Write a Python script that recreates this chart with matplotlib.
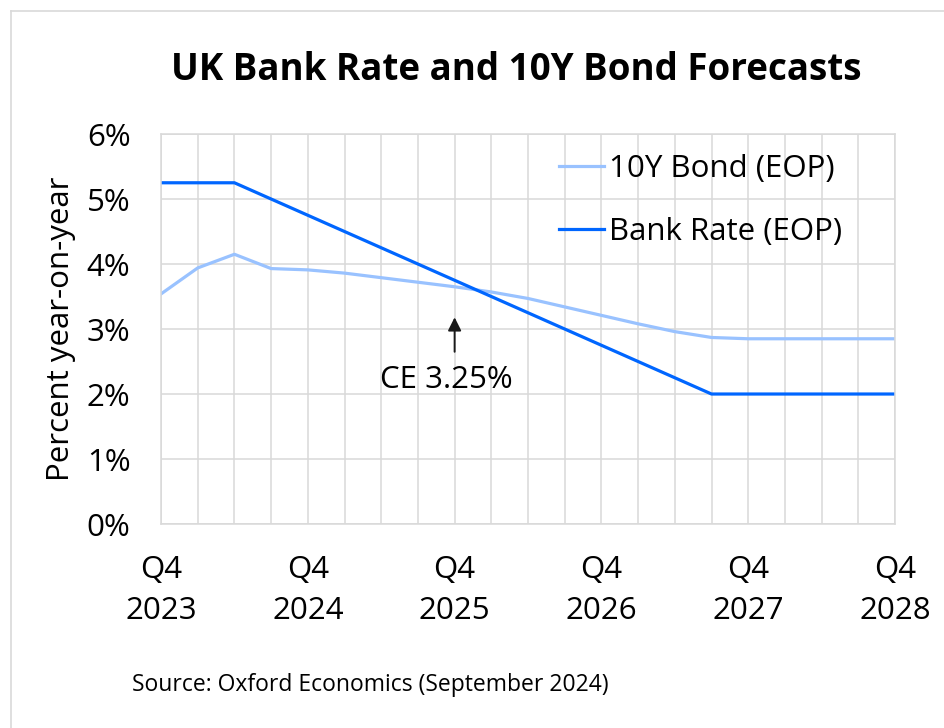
import matplotlib.pyplot as plt
from matplotlib.lines import Line2D
import numpy as np

plt.rcParams['font.family'] = ['Open Sans', 'DejaVu Sans']

# quarterly points, Q4 2023 .. Q4 2028
quarters = ['Q4\n2023', 'Q1\n2024', 'Q2\n2024', 'Q3\n2024',
            'Q4\n2024', 'Q1\n2025', 'Q2\n2025', 'Q3\n2025',
            'Q4\n2025', 'Q1\n2026', 'Q2\n2026', 'Q3\n2026',
            'Q4\n2026', 'Q1\n2027', 'Q2\n2027', 'Q3\n2027',
            'Q4\n2027', 'Q1\n2028', 'Q2\n2028', 'Q3\n2028',
            'Q4\n2028']
bond_10y = [3.54, 3.94, 4.15, 3.93, 3.91, 3.86, 3.79, 3.72, 3.65, 3.57, 3.47,
            3.34, 3.21, 3.08, 2.96, 2.87, 2.85, 2.85, 2.85, 2.85, 2.85]
bank_rate = [5.25, 5.25, 5.25, 5.00, 4.75, 4.50, 4.25, 4.00, 3.75, 3.50, 3.25,
             3.00, 2.75, 2.50, 2.25, 2.00, 2.00, 2.00, 2.00, 2.00, 2.00]
yticks = [0, 1, 2, 3, 4, 5, 6]

ce_idx = 8
ce_label = 'CE 3.25%'

x = np.arange(len(quarters))
fs = 22.5

fig = plt.figure(figsize=(9.45, 7.28), dpi=100)
ax = fig.add_axes([0.1704, 0.2802, 0.9471 - 0.1704, 0.8159 - 0.2802])

ax.plot(x, bond_10y, color='#99c2ff', lw=2.3, label='10Y Bond (EOP)', solid_joinstyle='round')
ax.plot(x, bank_rate, color='#0066ff', lw=2.3, label='Bank Rate (EOP)', solid_joinstyle='round')

ax.set_xlim(0, len(quarters) - 1)
ax.set_ylim(0, 6)
ax.set_yticks(yticks)
ax.set_yticklabels([f'{v}%' for v in yticks])
ax.set_xticks(x)
ax.set_xticklabels([q if q.startswith('Q4') else '' for q in quarters],
                   linespacing=1.5)
ax.tick_params(length=0, labelsize=fs, colors='black')
ax.tick_params(axis='x', pad=22)
ax.tick_params(axis='y', pad=22)

ax.grid(True, color='#d9d9d9', lw=1.1)
ax.set_axisbelow(True)
for s in ax.spines.values():
    s.set_color('#d9d9d9')
    s.set_linewidth(1.1)

ax.set_ylabel('Percent year-on-year', fontsize=fs, labelpad=8)

# Consensus marker: arrow pointing up to the Q4 2025 level
ax.annotate('', xy=(ce_idx, 3.18), xytext=(ce_idx, 2.65),
            arrowprops=dict(arrowstyle='-|>', color='#1a1a1a', lw=1.4,
                            mutation_scale=20, shrinkA=0, shrinkB=0))
ax.text(ce_idx - 0.22, 2.22, ce_label, ha='center', va='center', fontsize=fs)

ax.legend(loc='upper left', bbox_to_anchor=(0.514, 1.0), frameon=False,
          fontsize=fs, handlelength=1.44, handletextpad=0.16,
          labelspacing=1.05, borderaxespad=0.25)

fig.suptitle('UK Bank Rate and 10Y Bond Forecasts', x=0.546, y=0.904,
             fontsize=26.5, fontweight='bold', va='center')
fig.text(0.14, 0.059, 'Source: Oxford Economics (September 2024)',
         fontsize=16.5, va='center')

# light frame at top and left edges
fig.add_artist(Line2D([10.5 / 945, 10.5 / 945], [0, 1 - 11 / 728],
                      color='#d9d9d9', lw=1.2, transform=fig.transFigure))
fig.add_artist(Line2D([10.5 / 945, 1], [1 - 11 / 728, 1 - 11 / 728],
                      color='#d9d9d9', lw=1.2, transform=fig.transFigure))

fig.savefig('out.png', dpi=100)
